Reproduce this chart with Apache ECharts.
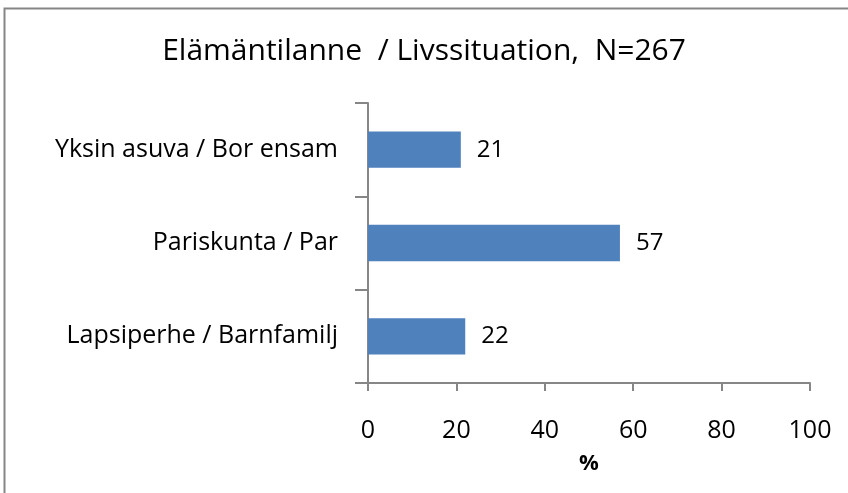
<!DOCTYPE html>
<html>
<head>
<meta charset="utf-8">
<script src="https://cdn.jsdelivr.net/npm/echarts@6/dist/echarts.min.js"></script>
<style>
	html, body { margin: 0; padding: 0; background: #fff; }
	#chart { width: 848px; height: 493px; }
</style>
</head>
<body>
<div id="chart"></div>
<script>
// categories listed bottom -> top (ECharts category y axis starts at the bottom)
var categories = ['Lapsiperhe / Barnfamilj', 'Pariskunta / Par', 'Yksin asuva / Bor ensam'];
var values = [22, 57, 21];
var xTicks = [0, 20, 40, 60, 80, 100];

var fontName = '"Open Sans", "Noto Sans", sans-serif';

var chart = echarts.init(document.getElementById('chart'));

var option = {
	backgroundColor: '#fff',
	animation: false,
	title: {
		text: 'Elämäntilanne  / Livssituation,  N=267',
		left: 'center',
		top: 31,
		textStyle: {
			fontFamily: fontName,
			fontWeight: 'normal',
			fontSize: 30,
			color: '#000'
		}
	},
	graphic: [{
		type: 'rect',
		shape: { x: 4.5, y: 8.5, width: 900, height: 600 },
		style: { fill: 'none', stroke: '#868686', lineWidth: 2 },
		silent: true
	}],
	grid: {
		left: 368,
		right: 38,
		top: 103,
		bottom: 110
	},
	xAxis: {
		type: 'value',
		min: xTicks[0],
		max: xTicks[xTicks.length - 1],
		interval: 20,
		name: '%',
		nameLocation: 'middle',
		nameGap: 70,
		nameTextStyle: {
			fontFamily: fontName,
			fontWeight: 'bold',
			fontSize: 22,
			color: '#000'
		},
		axisLine: { show: true, lineStyle: { color: '#868686', width: 2 } },
		axisTick: { show: true, length: 8, lineStyle: { color: '#868686', width: 2 } },
		axisLabel: {
			fontFamily: fontName,
			fontSize: 25,
			color: '#000',
			margin: 35
		},
		splitLine: { show: false }
	},
	yAxis: {
		type: 'category',
		data: categories,
		axisLine: { show: true, lineStyle: { color: '#868686', width: 2 } },
		axisTick: { show: true, length: 13, lineStyle: { color: '#868686', width: 2 } },
		axisLabel: {
			fontFamily: fontName,
			fontSize: 25,
			color: '#000',
			margin: 30
		}
	},
	series: [{
		type: 'bar',
		data: values,
		barCategoryGap: '61%',
		itemStyle: { color: '#4F81BD' },
		label: {
			show: true,
			position: 'right',
			distance: 16,
			fontFamily: fontName,
			fontSize: 24,
			color: '#000'
		}
	}]
};

chart.setOption(option);
</script>
</body>
</html>
